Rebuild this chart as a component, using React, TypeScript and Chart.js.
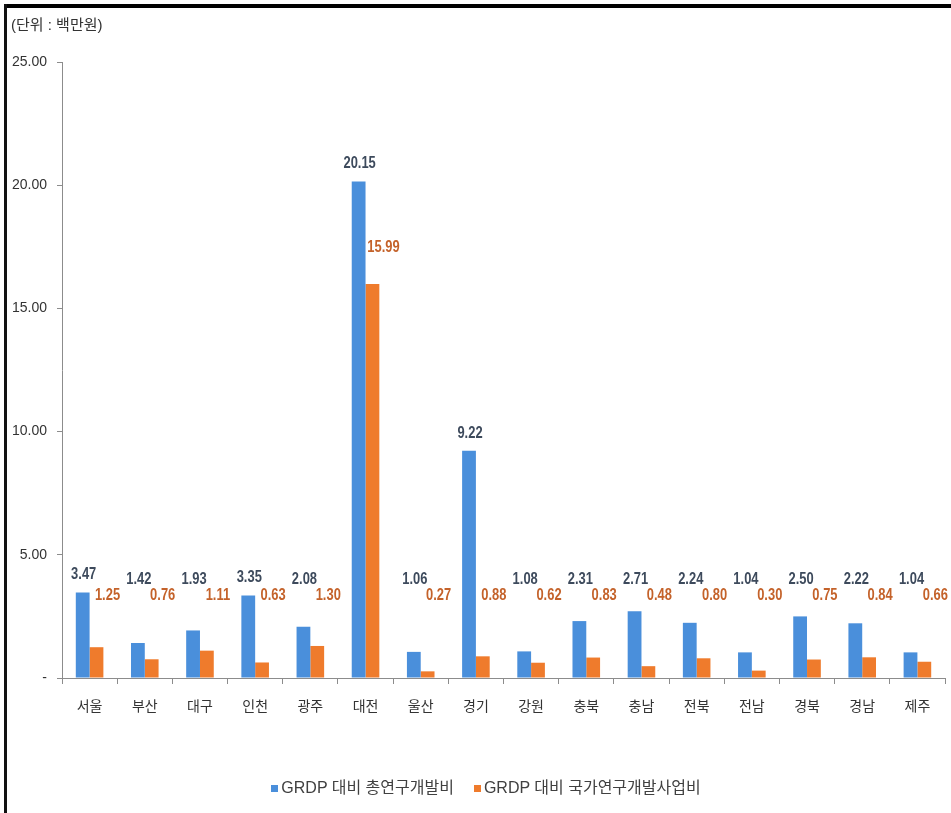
import React, { useEffect, useRef } from "react";
import { Chart, registerables } from "chart.js";

Chart.register(...registerables);

// 지역별 GRDP 대비 연구개발비 (단위: 백만원)
const regions = ["서울", "부산", "대구", "인천", "광주", "대전", "울산", "경기", "강원", "충북", "충남", "전북", "전남", "경북", "경남", "제주"];
const totalRnd = [3.47, 1.42, 1.93, 3.35, 2.08, 20.15, 1.06, 9.22, 1.08, 2.31, 2.71, 2.24, 1.04, 2.5, 2.22, 1.04];
const nationalRnd = [1.25, 0.76, 1.11, 0.63, 1.3, 15.99, 0.27, 0.88, 0.62, 0.83, 0.48, 0.8, 0.3, 0.75, 0.84, 0.66];
const seriesNames = ["GRDP 대비 총연구개발비", "GRDP 대비 국가연구개발사업비"];
const yTickLabels = ["-", "5.00", "10.00", "15.00", "20.00", "25.00"];
const unitLabel = "(단위 : 백만원)";

const BLUE = "#4a8fdb";
const ORANGE = "#ef7b2c";
const SERIES_COLORS = [BLUE, ORANGE];
const BLUE_TEXT = "#3d4a5c";
const ORANGE_TEXT = "#c4622a";
const NUM_FONT = "'Liberation Sans', Arial, sans-serif";
const KR_FONT = "'Liberation Sans', 'Noto Sans CJK KR', sans-serif";

// Draws narrow (horizontally compressed) value text centred at (x, y).
function narrowText(ctx: CanvasRenderingContext2D, text: string, x: number, y: number, sx: number) {
  ctx.save();
  ctx.translate(x, y);
  ctx.scale(sx, 1);
  ctx.fillText(text, 0, 0);
  ctx.restore();
}

// Value labels: blue labels sit just above their bars, orange labels float
// beside the orange bar; short bars get their labels lifted to a common band.
const valueLabels = {
  id: "valueLabels",
  afterDatasetsDraw(chart: any) {
    const { ctx } = chart;
    const y = chart.scales.y;
    ctx.save();
    ctx.textAlign = "center";
    ctx.textBaseline = "middle";
    ctx.font = `bold 17px ${NUM_FONT}`;
    const m0 = chart.getDatasetMeta(0);
    m0.data.forEach((bar: any, i: number) => {
      const v = totalRnd[i];
      const py = Math.min(bar.y - 18, y.getPixelForValue(4.0));
      ctx.fillStyle = BLUE_TEXT;
      narrowText(ctx, v.toFixed(2), bar.x + 1, py, 0.76);
    });
    const m1 = chart.getDatasetMeta(1);
    m1.data.forEach((bar: any, i: number) => {
      const v = nationalRnd[i];
      const py = Math.min(bar.y - 37, y.getPixelForValue(3.35));
      ctx.fillStyle = ORANGE_TEXT;
      narrowText(ctx, v.toFixed(2), bar.x + 11, py, 0.76);
    });
    ctx.restore();
  },
};

export default function App() {
  const ref = useRef<HTMLCanvasElement | null>(null);

  useEffect(() => {
    if (!ref.current) return;
    const chart = new Chart(ref.current, {
      type: "bar",
      data: {
        labels: regions,
        datasets: [
          { label: seriesNames[0], data: totalRnd, backgroundColor: BLUE, categoryPercentage: 0.5, barPercentage: 1.0 },
          { label: seriesNames[1], data: nationalRnd, backgroundColor: ORANGE, categoryPercentage: 0.5, barPercentage: 1.0 },
        ],
      },
      options: {
        animation: false,
        responsive: false,
        maintainAspectRatio: false,
        layout: { padding: { left: 8, right: 6, top: 62, bottom: 43 } },
        scales: {
          x: {
            offset: true,
            grid: { display: true, drawOnChartArea: false, drawTicks: true, offset: true, tickLength: 6, color: "#8c8c8c" },
            border: { display: true, color: "#8c8c8c", width: 1 },
            ticks: { color: "#333333", font: { family: KR_FONT, size: 14 }, padding: 15 },
            afterFit: (s: any) => { s.height = 92; },
          },
          y: {
            min: 0,
            max: 25,
            ticks: {
              stepSize: 5,
              color: "#333333",
              font: { family: NUM_FONT, size: 14 },
              padding: 10,
              callback: (_v: any, i: number) => yTickLabels[i],
            },
            grid: { display: true, drawOnChartArea: false, drawTicks: true, tickLength: 5, color: "#8c8c8c" },
            border: { display: true, color: "#8c8c8c", width: 1 },
            afterFit: (s: any) => { s.width = 54; },
          },
        },
        plugins: {
          legend: { display: false },
          tooltip: { enabled: false },
        },
      },
      plugins: [valueLabels],
    });
    return () => chart.destroy();
  }, []);

  return (
    <div style={{ position: "fixed", left: 0, top: 0, width: 951, height: 813, background: "#fff", overflow: "hidden" }}>
      <div style={{ position: "absolute", left: 4, top: 4, width: 947, height: 4, background: "#000" }} />
      <div style={{ position: "absolute", left: 4, top: 4, width: 3, height: 809, background: "#111" }} />
      <canvas ref={ref} width={951} height={813} style={{ position: "absolute", left: 0, top: 0, width: 951, height: 813 }} />
      <div
        style={{
          position: "absolute",
          left: 11,
          top: 15,
          fontFamily: KR_FONT,
          fontSize: 15,
          color: "#333",
          lineHeight: "20px",
        }}
      >
        {unitLabel}
      </div>
      <div
        style={{
          position: "absolute",
          left: 0,
          width: 972,
          top: 777,
          display: "flex",
          justifyContent: "center",
          gap: 20,
          fontFamily: KR_FONT,
          fontSize: 16,
          color: "#404040",
          lineHeight: "22px",
        }}
      >
        {seriesNames.map((name, i) => (
          <div key={name} style={{ display: "flex", alignItems: "center" }}>
            <span style={{ display: "inline-block", width: 7, height: 7, background: SERIES_COLORS[i], marginRight: 3 }} />
            <span>{name}</span>
          </div>
        ))}
      </div>
    </div>
  );
}
